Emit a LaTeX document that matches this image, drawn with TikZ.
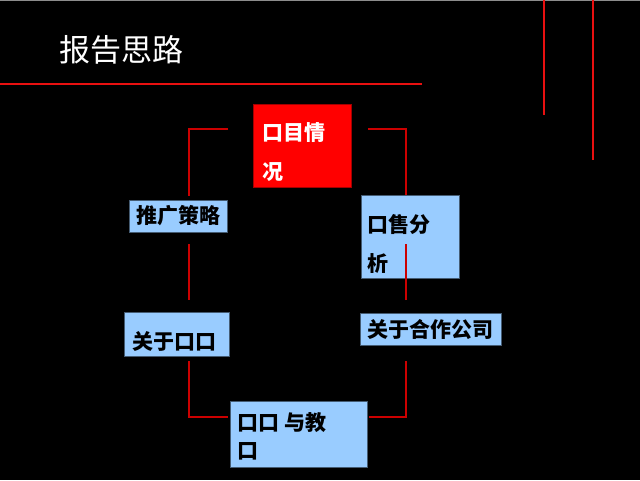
\documentclass[tikz,border=0pt]{standalone}
\usepackage{fontspec}
\setmainfont{Noto Sans CJK SC}
\definecolor{bgblack}{HTML}{000000}
\definecolor{boxred}{HTML}{FF0000}
\definecolor{boxblue}{HTML}{99CCFF}
\definecolor{lnred}{HTML}{CC0000}
\definecolor{barred}{HTML}{E81010}
\begin{document}
\begin{tikzpicture}[x=1pt,y=-1pt,
  redbox/.style={fill=boxred,draw=lnred!80!black,line width=0.8pt,anchor=north west,inner sep=0pt},
  bluebox/.style={fill=boxblue,draw=black!55!boxblue,line width=0.8pt,anchor=north west,inner sep=0pt},
  boxtext/.style={font=\fontsize{21}{39}\selectfont\bfseries,inner sep=0pt,align=left},
  conn/.style={draw=lnred,line width=1.3pt},
  bar/.style={draw=barred,line width=2.6pt}]
\useasboundingbox (0,0) rectangle (640,480);
\fill[bgblack] (0,0) rectangle (640,480);
\draw[black!45,line width=1pt] (0,0.5) -- (640,0.5);
% title and decorative bars
\node[font=\fontsize{31}{36}\selectfont,text=white,inner sep=0pt] (title) at (121,50) {报告思路};
\coordinate (hbarL) at (0,84);
\coordinate (hbarR) at (422,84);
\draw[bar] (hbarL) -- (hbarR);
\coordinate (vbarAt) at (544,0);
\coordinate (vbarAb) at (544,115);
\draw[bar] (vbarAt) -- (vbarAb);
\coordinate (vbarBt) at (593,0);
\coordinate (vbarBb) at (593,160);
\draw[bar] (vbarBt) -- (vbarBb);
% boxes
\node[redbox,minimum width=98,minimum height=83] (proj) at (253,104) {};
\node[bluebox,minimum width=98,minimum height=32] (promo) at (129,200) {};
\node[bluebox,minimum width=98,minimum height=83] (sales) at (361,195) {};
\node[bluebox,minimum width=105,minimum height=44] (aboutA) at (124,312) {};
\node[bluebox,minimum width=141,minimum height=32] (partner) at (360,313) {};
\node[bluebox,minimum width=137,minimum height=66] (lesson) at (230,401) {};
% texts
\node[boxtext,text=white,anchor=west] (projT) at (262,152.5) {口目情\\况};
\node[boxtext,anchor=center] (promoT) at (178.5,216) {推广策略};
\node[boxtext,anchor=west] (salesT) at (367,244) {口售分\\析};
\node[boxtext,anchor=west] (aboutAT) at (132,342) {关于口口};
\node[boxtext,anchor=center] (partnerT) at (430.5,330) {关于合作公司};
\node[boxtext,font=\fontsize{21}{28}\selectfont\bfseries,anchor=west] (lessonT) at (237,436) {口口 与教\\口};
% connectors
\coordinate (c1a) at (228,129);
\coordinate (c1b) at (189,196);
\draw[conn] (c1a) -| (c1b);
\coordinate (c2a) at (189,244);
\coordinate (c2b) at (189,300);
\draw[conn] (c2a) -- (c2b);
\coordinate (c3a) at (189,361);
\coordinate (c3b) at (228,417);
\draw[conn] (c3a) |- (c3b);
\coordinate (c4a) at (369,417);
\coordinate (c4b) at (406,361);
\draw[conn] (c4a) -| (c4b);
\coordinate (c5a) at (406,300);
\coordinate (c5b) at (406,244);
\draw[conn] (c5a) -- (c5b);
\coordinate (c6a) at (368,129);
\coordinate (c6b) at (406,195);
\draw[conn] (c6a) -| (c6b);
\end{tikzpicture}
\end{document}
